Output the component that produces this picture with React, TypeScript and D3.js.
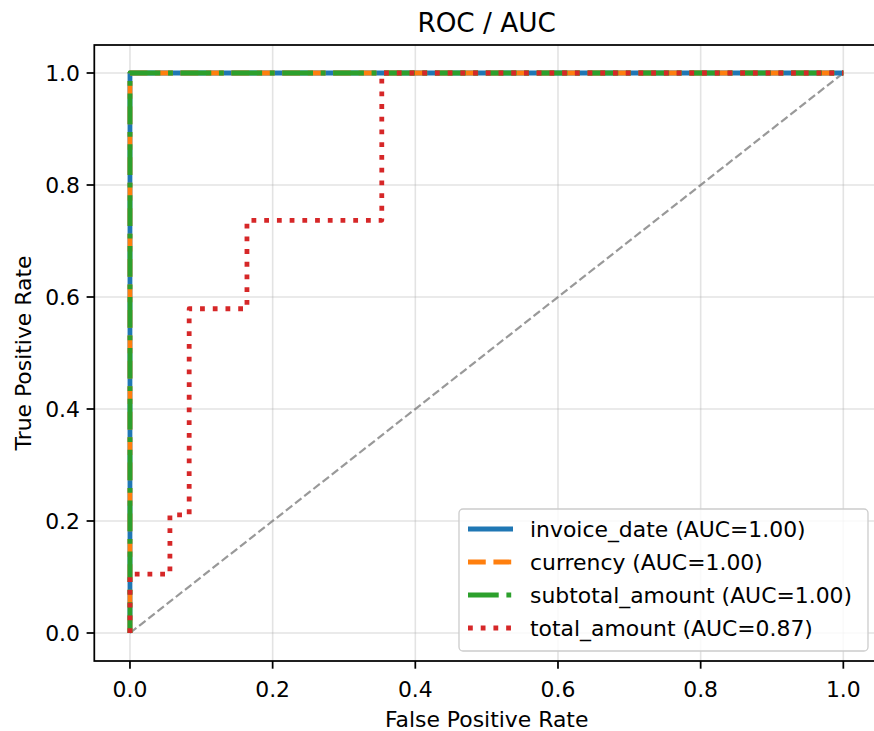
import React from 'react';
import * as d3 from 'd3';

// ROC curve data
const perfectFpr = [0, 0, 1];
const perfectTpr = [0, 1, 1];
const totalFpr = [0, 0, 0.056, 0.056, 0.083, 0.083, 0.164, 0.164, 0.353, 0.353, 1];
const totalTpr = [0, 0.105, 0.105, 0.211, 0.211, 0.579, 0.579, 0.737, 0.737, 1, 1];

const seriesNames = ['invoice_date', 'currency', 'subtotal_amount', 'total_amount'];
const seriesAuc = ['1.00', '1.00', '1.00', '0.87'];
const seriesColors = ['#1f77b4', '#ff7f0e', '#2ca02c', '#d62728'];
const ticks = [0, 0.2, 0.4, 0.6, 0.8, 1.0];

const LW = 4.8;
const dashes = ['', `${3.7 * LW},${1.6 * LW}`, `${6.4 * LW},${1.6 * LW},${1 * LW},${1.6 * LW}`, `${1 * LW},${1.65 * LW}`];

const FONT = 'DejaVu Sans, sans-serif';

const App = () => {
  const width = 874;
  const height = 731;
  const left = 94.3, right = 879, top = 45, bottom = 661;

  const x = d3.scaleLinear().domain([-0.05, 1.05]).range([left, right]);
  const y = d3.scaleLinear().domain([-0.05, 1.05]).range([bottom, top]);

  const line = d3.line<[number, number]>().x(d => x(d[0])).y(d => y(d[1]));
  const pts = (fx: number[], ty: number[]) => fx.map((v, i) => [v, ty[i]] as [number, number]);

  const curves = [
    pts(perfectFpr, perfectTpr),
    pts(perfectFpr, perfectTpr),
    pts(perfectFpr, perfectTpr),
    pts(totalFpr, totalTpr),
  ];

  // legend geometry
  const lgX = 459, lgY = 509, lgW = 409, lgH = 142;
  const rowY = [529, 562, 595, 628];

  return (
    <svg width={width} height={height} style={{ position: 'absolute', left: 0, top: 0, background: '#fff' }}
      fontFamily={FONT}>
      <rect width={width} height={height} fill="#fff" />
      <defs>
        <clipPath id="plotArea">
          <rect x={left} y={top} width={right - left} height={bottom - top} />
        </clipPath>
      </defs>

      {/* grid */}
      {ticks.map(t => (
        <g key={'g' + t}>
          <line x1={x(t)} x2={x(t)} y1={top} y2={bottom} stroke="#b0b0b0" strokeOpacity={0.35} strokeWidth={1.6} />
          <line x1={left} x2={right} y1={y(t)} y2={y(t)} stroke="#b0b0b0" strokeOpacity={0.35} strokeWidth={1.6} />
        </g>
      ))}

      <g clipPath="url(#plotArea)">
        {/* chance line */}
        <line x1={x(0)} y1={y(0)} x2={x(1)} y2={y(1)} stroke="gray" strokeOpacity={0.8}
          strokeWidth={2.2} strokeDasharray={`${3.7 * 2.2},${1.6 * 2.2}`} />
        {curves.map((c, i) => (
          <path key={i} d={line(c) || ''} fill="none" stroke={seriesColors[i]} strokeWidth={LW}
            strokeDasharray={dashes[i] || undefined} strokeLinejoin="round" />
        ))}
      </g>

      {/* spines */}
      <rect x={left} y={top} width={right - left} height={bottom - top} fill="none" stroke="#000" strokeWidth={1.75} />

      {/* x ticks */}
      {ticks.map(t => (
        <g key={'x' + t}>
          <line x1={x(t)} x2={x(t)} y1={bottom} y2={bottom + 7.7} stroke="#000" strokeWidth={1.75} />
          <text x={x(t)} y={697} textAnchor="middle" fontSize={21.9} fill="#000">{t.toFixed(1)}</text>
        </g>
      ))}
      {/* y ticks */}
      {ticks.map(t => (
        <g key={'y' + t}>
          <line x1={left - 7.7} x2={left} y1={y(t)} y2={y(t)} stroke="#000" strokeWidth={1.75} />
          <text x={80} y={y(t)} dy="0.36em" textAnchor="end" fontSize={21.9} fill="#000">{t.toFixed(1)}</text>
        </g>
      ))}

      <text x={(left + right) / 2} y={727} textAnchor="middle" fontSize={21.9} fill="#000">False Positive Rate</text>
      <text transform={`translate(31, ${(top + bottom) / 2}) rotate(-90)`} textAnchor="middle" fontSize={21.9} fill="#000">True Positive Rate</text>
      <text x={(left + right) / 2} y={32} textAnchor="middle" fontSize={26.3} fill="#000">ROC / AUC</text>

      {/* legend */}
      <rect x={lgX} y={lgY} width={lgW} height={lgH} rx={4} fill="#fff" fillOpacity={0.8} stroke="#cccccc" strokeWidth={1.3} />
      {seriesNames.map((n, i) => (
        <g key={n}>
          <line x1={468} x2={513} y1={rowY[i]} y2={rowY[i]} stroke={seriesColors[i]} strokeWidth={LW}
            strokeDasharray={dashes[i] || undefined} />
          <text x={530} y={rowY[i]} dy="0.36em" fontSize={21.9} fill="#000">{`${n} (AUC=${seriesAuc[i]})`}</text>
        </g>
      ))}
    </svg>
  );
};

export default App;
